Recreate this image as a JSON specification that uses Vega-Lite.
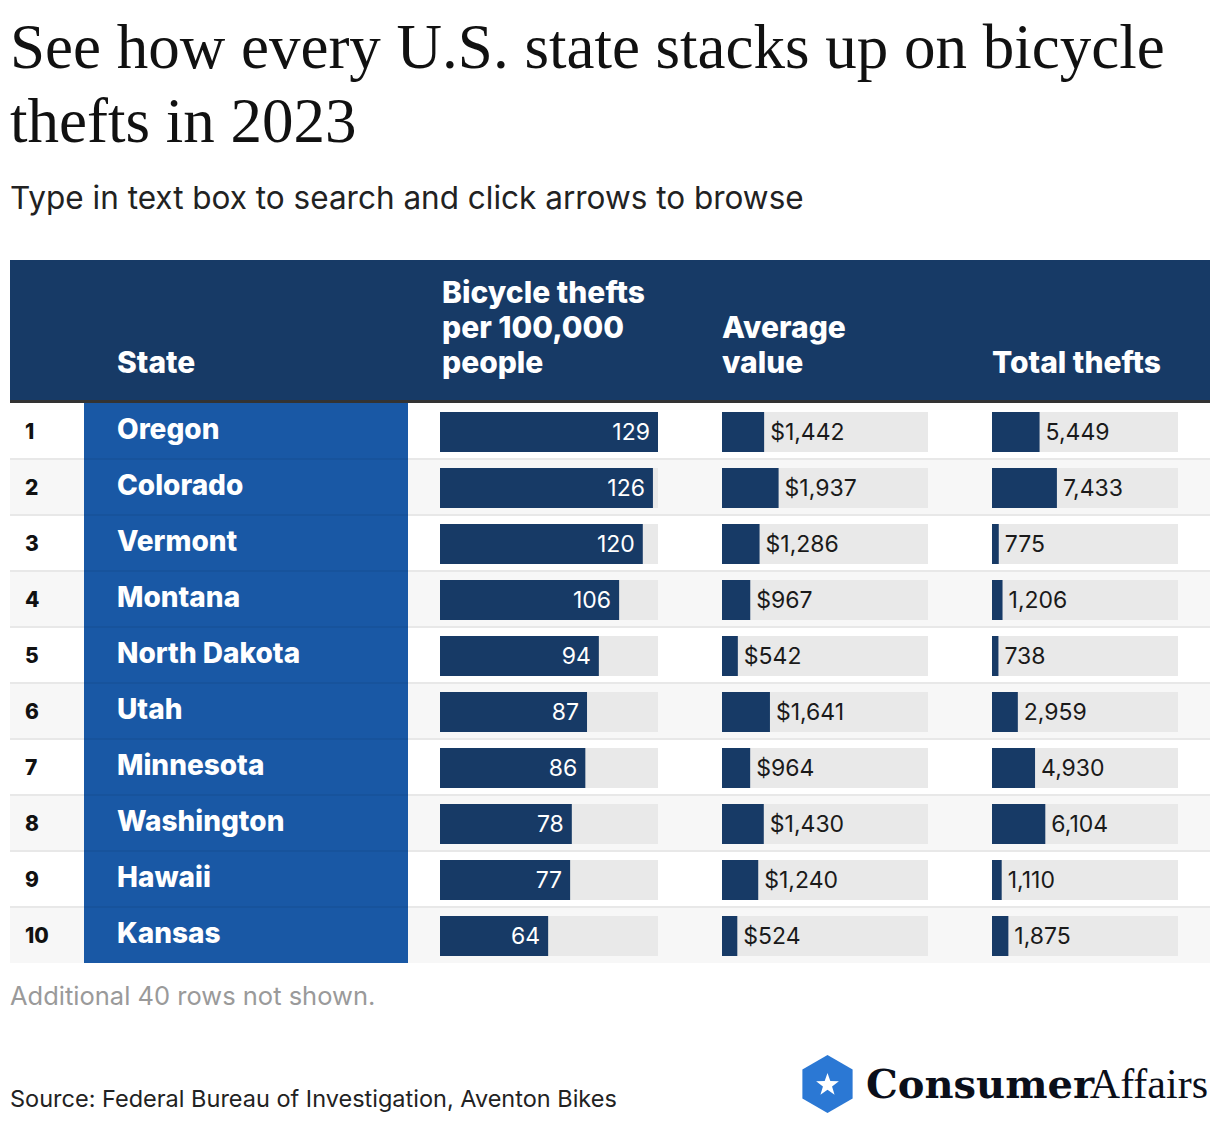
{
  "$schema": "https://vega.github.io/schema/vega-lite/v6.json",
  "padding": {"left": 10, "right": 10, "top": 18, "bottom": 0},
  "background": "white",
  "spacing": 0,
  "title": {
    "text": ["See how every U.S. state stacks up on bicycle", "thefts in 2023"],
    "subtitle": "Type in text box to search and click arrows to browse",
    "anchor": "start",
    "font": "Liberation Serif",
    "fontSize": 63,
    "fontWeight": "normal",
    "lineHeight": 74,
    "color": "#111111",
    "subtitleFont": "Inter",
    "subtitleFontSize": 31.5,
    "subtitleColor": "#222222",
    "subtitlePadding": 29,
    "offset": 44.5
  },
  "config": {"view": {"stroke": null}},
  "data": {
    "values": [
      {"rank": 1, "state": "Oregon", "per100k": 129, "avg": 1442, "total": 5449},
      {"rank": 2, "state": "Colorado", "per100k": 126, "avg": 1937, "total": 7433},
      {"rank": 3, "state": "Vermont", "per100k": 120, "avg": 1286, "total": 775},
      {"rank": 4, "state": "Montana", "per100k": 106, "avg": 967, "total": 1206},
      {"rank": 5, "state": "North Dakota", "per100k": 94, "avg": 542, "total": 738},
      {"rank": 6, "state": "Utah", "per100k": 87, "avg": 1641, "total": 2959},
      {"rank": 7, "state": "Minnesota", "per100k": 86, "avg": 964, "total": 4930},
      {"rank": 8, "state": "Washington", "per100k": 78, "avg": 1430, "total": 6104},
      {"rank": 9, "state": "Hawaii", "per100k": 77, "avg": 1240, "total": 1110},
      {"rank": 10, "state": "Kansas", "per100k": 64, "avg": 524, "total": 1875}
    ]
  },
  "vconcat": [
    {
      "spacing": 0,
      "hconcat": [
        {"width": 74, "height": 143, "view": {"fill": "#173a66", "stroke": null},
         "data": {"values": [{"h": ""}]},
         "layer": [
           {"mark": {"type": "rect", "color": "#333333"}, "encoding": {"y": {"value": 140}, "y2": {"value": 143}, "x": {"value": 0}, "x2": {"value": "width"}}}
         ]},
        {"width": 324, "height": 143, "view": {"fill": "#173a66", "stroke": null},
         "data": {"values": [{"h": "State"}]},
         "layer": [
           {"mark": {"type": "text", "align": "left", "baseline": "top", "font": "Inter", "fontWeight": 800, "fontSize": 30, "lineHeight": 35, "color": "white", "lineBreak": "\n", "x": 33, "y": 89}, "encoding": {"text": {"field": "h"}}},
           {"mark": {"type": "rect", "color": "#333333"}, "encoding": {"y": {"value": 140}, "y2": {"value": 143}, "x": {"value": 0}, "x2": {"value": "width"}}}
         ]},
        {"width": 282, "height": 143, "view": {"fill": "#173a66", "stroke": null},
         "data": {"values": [{"h": "Bicycle thefts\nper 100,000\npeople"}]},
         "layer": [
           {"mark": {"type": "text", "align": "left", "baseline": "top", "font": "Inter", "fontWeight": 800, "fontSize": 30, "lineHeight": 35, "color": "white", "lineBreak": "\n", "x": 34, "y": 19}, "encoding": {"text": {"field": "h"}}},
           {"mark": {"type": "rect", "color": "#333333"}, "encoding": {"y": {"value": 140}, "y2": {"value": 143}, "x": {"value": 0}, "x2": {"value": "width"}}}
         ]},
        {"width": 270, "height": 143, "view": {"fill": "#173a66", "stroke": null},
         "data": {"values": [{"h": "Average\nvalue"}]},
         "layer": [
           {"mark": {"type": "text", "align": "left", "baseline": "top", "font": "Inter", "fontWeight": 800, "fontSize": 30, "lineHeight": 35, "color": "white", "lineBreak": "\n", "x": 32, "y": 54}, "encoding": {"text": {"field": "h"}}},
           {"mark": {"type": "rect", "color": "#333333"}, "encoding": {"y": {"value": 140}, "y2": {"value": 143}, "x": {"value": 0}, "x2": {"value": "width"}}}
         ]},
        {"width": 250, "height": 143, "view": {"fill": "#173a66", "stroke": null},
         "data": {"values": [{"h": "Total thefts"}]},
         "layer": [
           {"mark": {"type": "text", "align": "left", "baseline": "top", "font": "Inter", "fontWeight": 800, "fontSize": 30, "lineHeight": 35, "color": "white", "lineBreak": "\n", "x": 32, "y": 89}, "encoding": {"text": {"field": "h"}}},
           {"mark": {"type": "rect", "color": "#333333"}, "encoding": {"y": {"value": 140}, "y2": {"value": 143}, "x": {"value": 0}, "x2": {"value": "width"}}}
         ]}
      ]
    },
    {
      "spacing": 0,
      "hconcat": [
        {"width": 74, "height": 560,
         "encoding": {"y": {"field": "rank", "type": "ordinal", "axis": null, "scale": {"paddingInner": 0, "paddingOuter": 0}}},
         "layer": [
           {"transform": [{"filter": "datum.rank % 2 === 0"}], "mark": {"type": "rect", "color": "#f7f7f7"}, "encoding": {"x": {"value": 0}, "x2": {"value": "width"}}},
           {"transform": [{"filter": "datum.rank < 10"}], "mark": {"type": "bar", "color": "#e8e8e8", "height": 2, "yOffset": 28}, "encoding": {"x": {"value": 0}, "x2": {"value": "width"}}},
           {"mark": {"type": "text", "align": "left", "baseline": "middle", "font": "Inter", "fontWeight": 800, "fontSize": 21, "color": "#111111", "x": 15, "dy": 2}, "encoding": {"text": {"field": "rank", "type": "ordinal"}}}
         ]},
        {"width": 324, "height": 560, "view": {"fill": "#1958a5", "stroke": null},
         "encoding": {"y": {"field": "rank", "type": "ordinal", "axis": null, "scale": {"paddingInner": 0, "paddingOuter": 0}}},
         "layer": [
           {"transform": [{"filter": "datum.rank < 10"}], "mark": {"type": "bar", "color": "#000000", "opacity": 0.05, "height": 2, "yOffset": 28}, "encoding": {"x": {"value": 0}, "x2": {"value": "width"}}},
           {"mark": {"type": "text", "align": "left", "baseline": "middle", "font": "Inter", "fontWeight": 800, "fontSize": 28, "color": "white", "x": 33}, "encoding": {"text": {"field": "state"}}}
         ]},
        {"width": 282, "height": 560,
         "encoding": {"y": {"field": "rank", "type": "ordinal", "axis": null, "scale": {"paddingInner": 0, "paddingOuter": 0}}},
         "layer": [
           {"transform": [{"filter": "datum.rank % 2 === 0"}], "mark": {"type": "rect", "color": "#f7f7f7"}, "encoding": {"x": {"value": 0}, "x2": {"value": "width"}}},
           {"transform": [{"filter": "datum.rank < 10"}], "mark": {"type": "bar", "color": "#e8e8e8", "height": 2, "yOffset": 28}, "encoding": {"x": {"value": 0}, "x2": {"value": "width"}}},
           {"mark": {"type": "bar", "color": "#e9e9e9", "height": 40, "yOffset": 1}, "encoding": {"x": {"datum": 0, "type": "quantitative", "axis": null, "scale": {"domain": [0, 129], "range": [32, 250], "nice": false}}, "x2": {"datum": 129}}},
           {"mark": {"type": "bar", "color": "#173a66", "height": 40, "yOffset": 1}, "encoding": {"x": {"field": "per100k", "type": "quantitative", "axis": null}}},
           {"mark": {"type": "text", "align": "right", "baseline": "middle", "font": "Inter", "fontSize": 23, "color": "white", "dx": -8, "dy": 2}, "encoding": {"x": {"field": "per100k", "type": "quantitative"}, "text": {"field": "per100k", "type": "quantitative"}}}
         ]},
        {"width": 270, "height": 560,
         "encoding": {"y": {"field": "rank", "type": "ordinal", "axis": null, "scale": {"paddingInner": 0, "paddingOuter": 0}}},
         "layer": [
           {"transform": [{"filter": "datum.rank % 2 === 0"}], "mark": {"type": "rect", "color": "#f7f7f7"}, "encoding": {"x": {"value": 0}, "x2": {"value": "width"}}},
           {"transform": [{"filter": "datum.rank < 10"}], "mark": {"type": "bar", "color": "#e8e8e8", "height": 2, "yOffset": 28}, "encoding": {"x": {"value": 0}, "x2": {"value": "width"}}},
           {"mark": {"type": "bar", "color": "#e9e9e9", "height": 40, "yOffset": 1}, "encoding": {"x": {"datum": 0, "type": "quantitative", "axis": null, "scale": {"domain": [0, 7050], "range": [32, 238], "nice": false}}, "x2": {"datum": 7050}}},
           {"mark": {"type": "bar", "color": "#173a66", "height": 40, "yOffset": 1}, "encoding": {"x": {"field": "avg", "type": "quantitative", "axis": null}}},
           {"mark": {"type": "text", "align": "left", "baseline": "middle", "font": "Inter", "fontSize": 23, "color": "#1a1a1a", "dx": 6, "dy": 2}, "encoding": {"x": {"field": "avg", "type": "quantitative"}, "text": {"field": "avg", "type": "quantitative", "format": "$,.0f"}}}
         ]},
        {"width": 250, "height": 560,
         "encoding": {"y": {"field": "rank", "type": "ordinal", "axis": null, "scale": {"paddingInner": 0, "paddingOuter": 0}}},
         "layer": [
           {"transform": [{"filter": "datum.rank % 2 === 0"}], "mark": {"type": "rect", "color": "#f7f7f7"}, "encoding": {"x": {"value": 0}, "x2": {"value": "width"}}},
           {"transform": [{"filter": "datum.rank < 10"}], "mark": {"type": "bar", "color": "#e8e8e8", "height": 2, "yOffset": 28}, "encoding": {"x": {"value": 0}, "x2": {"value": "width"}}},
           {"mark": {"type": "bar", "color": "#e9e9e9", "height": 40, "yOffset": 1}, "encoding": {"x": {"datum": 0, "type": "quantitative", "axis": null, "scale": {"domain": [0, 21300], "range": [32, 218], "nice": false}}, "x2": {"datum": 21300}}},
           {"mark": {"type": "bar", "color": "#173a66", "height": 40, "yOffset": 1}, "encoding": {"x": {"field": "total", "type": "quantitative", "axis": null}}},
           {"mark": {"type": "text", "align": "left", "baseline": "middle", "font": "Inter", "fontSize": 23, "color": "#1a1a1a", "dx": 6, "dy": 2}, "encoding": {"x": {"field": "total", "type": "quantitative"}, "text": {"field": "total", "type": "quantitative", "format": ","}}}
         ]}
      ]
    },
    {
      "width": 1200, "height": 161,
      "data": {"values": [{"k": 1}]},
      "layer": [
        {"mark": {"type": "text", "align": "left", "baseline": "alphabetic", "font": "Inter", "fontSize": 25.5, "color": "#9a9a9a", "text": "Additional 40 rows not shown.", "x": 0, "y": 42}, "encoding": {}},
        {"mark": {"type": "text", "align": "left", "baseline": "alphabetic", "font": "Inter", "fontSize": 23.5, "color": "#222222", "text": "Source: Federal Bureau of Investigation, Aventon Bikes", "x": 0, "y": 144}, "encoding": {}},
        {"mark": {"type": "point", "filled": true, "color": "#2b78d4", "opacity": 1, "size": 3364, "shape": "M0,-1L0.866,-0.5L0.866,0.5L0,1L-0.866,0.5L-0.866,-0.5Z", "x": 817.5, "y": 121}, "encoding": {}},
        {"mark": {"type": "point", "filled": true, "color": "white", "opacity": 1, "size": 576, "shape": "M0,-1L0.235,-0.324L0.951,-0.309L0.38,0.124L0.588,0.809L0,0.4L-0.588,0.809L-0.38,0.124L-0.951,-0.309L-0.235,-0.324Z", "x": 817.5, "y": 122}, "encoding": {}},
        {"mark": {"type": "text", "align": "left", "baseline": "alphabetic", "font": "DejaVu Serif", "fontWeight": "bold", "fontSize": 40, "color": "#0b0f1a", "text": "Consumer", "x": 856, "y": 135}, "encoding": {}},
        {"mark": {"type": "text", "align": "right", "baseline": "alphabetic", "font": "Liberation Serif", "fontSize": 42, "color": "#0b0f1a", "text": "Affairs", "x": 1198, "y": 135}, "encoding": {}}
      ]
    }
  ]
}
